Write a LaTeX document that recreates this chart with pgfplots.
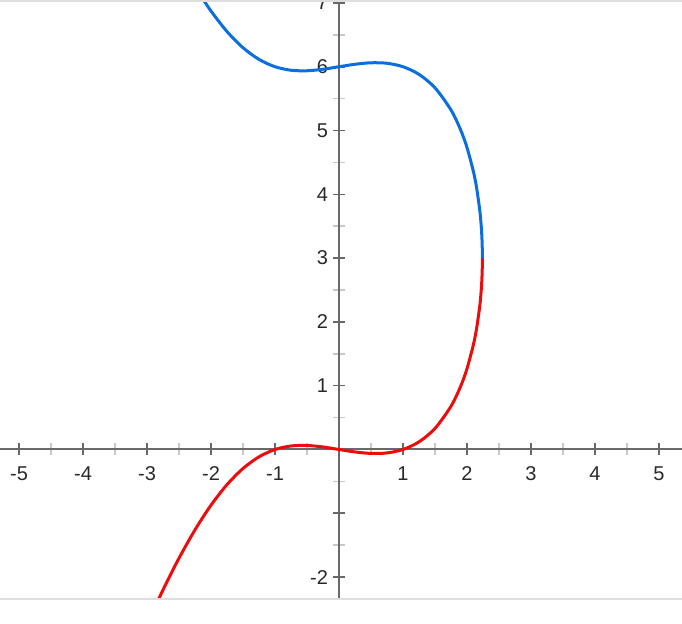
\documentclass[border=0pt]{standalone}
\usepackage{pgfplots}
\pgfplotsset{compat=1.18}
\usepackage{fontspec}
\setmainfont{Liberation Sans}
\definecolor{curveblue}{RGB}{10,110,222}
\definecolor{curvered}{RGB}{236,12,12}
\definecolor{axisgray}{RGB}{105,105,105}
\definecolor{minorgray}{RGB}{200,200,200}
\definecolor{labelgray}{RGB}{40,40,40}
\definecolor{bandgray}{RGB}{222,222,222}

\begin{document}
\begin{tikzpicture}
\path[use as bounding box] (0pt,-13pt) rectangle (341pt,299pt);
\begin{axis}[
  name=ax, at={(0pt,0pt)}, anchor=south west,
  scale only axis, width=341pt, height=298pt,
  xmin=-5.297, xmax=5.359,
  ymin=-2.328, ymax=7.015,
  axis lines=middle,
  axis line style={-, axisgray, line width=1pt},
  clip mode=individual,
  xtick={-5,-4,-3,-2,-1,1,2,3,4,5},
  xticklabels={-5,-4,-3,-2,-1,1,2,3,4,5},
  ytick={-2,-1,1,2,3,4,5,6,7},
  yticklabels={-2,,1,2,3,4,5,6,7},
  minor xtick={-5.5,-4.5,-3.5,-2.5,-1.5,-0.5,0.5,1.5,2.5,3.5,4.5,5.5},
  minor ytick={-1.5,-0.5,0.5,1.5,2.5,3.5,4.5,5.5,6.5},
  tick align=center,
  major tick length=6pt, minor tick length=6pt,
  major tick style={axisgray, line width=0.8pt},
  minor tick style={minorgray, line width=0.8pt},
  tick label style={font=\fontsize{10}{12}\selectfont, text=labelgray},
  xticklabel style={anchor=north, yshift=-2pt},
  yticklabel style={anchor=east, xshift=1pt},
]
% lower branch
\addplot[curvered, line width=1.5pt, smooth] coordinates {
  (-2.85,-2.4129) (-2.7,-2.0974) (-2.5,-1.7037) (-2.25,-1.2592)
  (-2,-0.87298) (-1.75,-0.55097) (-1.5,-0.29773) (-1.25,-0.11498)
  (-1,0) (-0.75,0.05519) (-0.5,0.06316) (-0.25,0.03932) (0,0)
  (0.25,-0.03881) (0.5,-0.06186) (0.75,-0.05420) (1,0)
  (1.25,0.11957) (1.5,0.33073) (1.75,0.67823) (1.9,0.98978)
  (2.0,1.26795) (2.1,1.64390) (2.15,1.89926) (2.2,2.25703)
  (2.22,2.47184) (2.23,2.62530) (2.23363,2.7) (2.23719,2.8)
  (2.23933,2.9) (2.23986,2.95) (2.24004,3)
};
% upper branch
\addplot[curveblue, line width=1.5pt, smooth] coordinates {
  (-2.15,7.09736) (-2,6.87298) (-1.75,6.55097) (-1.5,6.29773)
  (-1.25,6.11498) (-1,6) (-0.75,5.94481) (-0.5,5.93684)
  (-0.25,5.96068) (0,6) (0.25,6.03881) (0.5,6.06186) (0.75,6.05420)
  (1,6) (1.25,5.88043) (1.5,5.66927) (1.75,5.32177) (1.9,5.01022)
  (2.0,4.73205) (2.1,4.35610) (2.15,4.10074) (2.2,3.74297)
  (2.22,3.52816) (2.23,3.37470) (2.23363,3.3) (2.23719,3.2)
  (2.23933,3.1) (2.23986,3.05) (2.24004,3)
};
\end{axis}
\fill[bandgray] (0pt,-1pt) rectangle (341pt,0pt);
\fill[bandgray] (0pt,298pt) rectangle (341pt,299pt);
\end{tikzpicture}
\end{document}
